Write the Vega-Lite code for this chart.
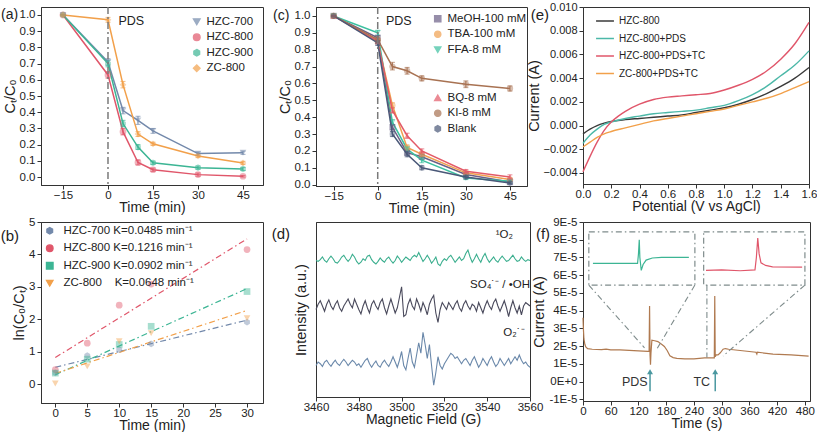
{
  "$schema": "https://vega.github.io/schema/vega-lite/v6.json",
  "background": "white",
  "padding": {"left": 0, "top": 0, "right": 0, "bottom": 0},
  "columns": 3,
  "spacing": {"row": 36, "column": 53},
  "bounds": "flush",
  "align": "each",
  "resolve": {"scale": {"color": "independent", "shape": "independent"}, "legend": {"color": "independent", "shape": "independent"}},
  "datasets": {
    "a": [
      {"s": "HZC-700", "t": -15, "y": 1.0, "lo": 1.0, "hi": 1.0},
      {"s": "HZC-700", "t": 0, "y": 0.71, "lo": 0.69, "hi": 0.73},
      {"s": "HZC-700", "t": 5, "y": 0.41, "lo": 0.39, "hi": 0.43},
      {"s": "HZC-700", "t": 10, "y": 0.35, "lo": 0.325, "hi": 0.375},
      {"s": "HZC-700", "t": 15, "y": 0.285, "lo": 0.27, "hi": 0.3},
      {"s": "HZC-700", "t": 30, "y": 0.145, "lo": 0.135, "hi": 0.155},
      {"s": "HZC-700", "t": 45, "y": 0.15, "lo": 0.14, "hi": 0.16},
      {"s": "HZC-800", "t": -15, "y": 1.0, "lo": 1.0, "hi": 1.0},
      {"s": "HZC-800", "t": 0, "y": 0.63, "lo": 0.61, "hi": 0.65},
      {"s": "HZC-800", "t": 5, "y": 0.28, "lo": 0.26, "hi": 0.3},
      {"s": "HZC-800", "t": 10, "y": 0.09, "lo": 0.075, "hi": 0.105},
      {"s": "HZC-800", "t": 15, "y": 0.045, "lo": 0.035, "hi": 0.055},
      {"s": "HZC-800", "t": 30, "y": 0.015, "lo": 0.005, "hi": 0.025},
      {"s": "HZC-800", "t": 45, "y": 0.005, "lo": 0.0, "hi": 0.01},
      {"s": "HZC-900", "t": -15, "y": 1.0, "lo": 1.0, "hi": 1.0},
      {"s": "HZC-900", "t": 0, "y": 0.7, "lo": 0.68, "hi": 0.72},
      {"s": "HZC-900", "t": 5, "y": 0.33, "lo": 0.31, "hi": 0.35},
      {"s": "HZC-900", "t": 10, "y": 0.185, "lo": 0.17, "hi": 0.2},
      {"s": "HZC-900", "t": 15, "y": 0.088, "lo": 0.078, "hi": 0.098},
      {"s": "HZC-900", "t": 30, "y": 0.058, "lo": 0.048, "hi": 0.068},
      {"s": "HZC-900", "t": 45, "y": 0.05, "lo": 0.04, "hi": 0.06},
      {"s": "ZC-800", "t": -15, "y": 1.0, "lo": 0.99, "hi": 1.0},
      {"s": "ZC-800", "t": 0, "y": 0.97, "lo": 0.955, "hi": 0.985},
      {"s": "ZC-800", "t": 5, "y": 0.57, "lo": 0.55, "hi": 0.59},
      {"s": "ZC-800", "t": 10, "y": 0.265, "lo": 0.25, "hi": 0.28},
      {"s": "ZC-800", "t": 15, "y": 0.205, "lo": 0.195, "hi": 0.215},
      {"s": "ZC-800", "t": 30, "y": 0.13, "lo": 0.12, "hi": 0.14},
      {"s": "ZC-800", "t": 45, "y": 0.087, "lo": 0.077, "hi": 0.097}
    ],
    "c1": [
      {"s": "MeOH-100 mM", "t": -15, "y": 1.0, "lo": 1.0, "hi": 1.0},
      {"s": "MeOH-100 mM", "t": 0, "y": 0.87, "lo": 0.855, "hi": 0.885},
      {"s": "MeOH-100 mM", "t": 5, "y": 0.34, "lo": 0.325, "hi": 0.355},
      {"s": "MeOH-100 mM", "t": 10, "y": 0.19, "lo": 0.175, "hi": 0.205},
      {"s": "MeOH-100 mM", "t": 15, "y": 0.165, "lo": 0.15, "hi": 0.18},
      {"s": "MeOH-100 mM", "t": 30, "y": 0.06, "lo": 0.05, "hi": 0.07},
      {"s": "MeOH-100 mM", "t": 45, "y": 0.015, "lo": 0.005, "hi": 0.025},
      {"s": "TBA-100 mM", "t": -15, "y": 1.0, "lo": 1.0, "hi": 1.0},
      {"s": "TBA-100 mM", "t": 0, "y": 0.85, "lo": 0.835, "hi": 0.865},
      {"s": "TBA-100 mM", "t": 5, "y": 0.47, "lo": 0.455, "hi": 0.485},
      {"s": "TBA-100 mM", "t": 10, "y": 0.22, "lo": 0.205, "hi": 0.235},
      {"s": "TBA-100 mM", "t": 15, "y": 0.18, "lo": 0.165, "hi": 0.195},
      {"s": "TBA-100 mM", "t": 30, "y": 0.07, "lo": 0.06, "hi": 0.08},
      {"s": "TBA-100 mM", "t": 45, "y": 0.03, "lo": 0.02, "hi": 0.04},
      {"s": "FFA-8 mM", "t": -15, "y": 1.0, "lo": 1.0, "hi": 1.0},
      {"s": "FFA-8 mM", "t": 0, "y": 0.9, "lo": 0.885, "hi": 0.915},
      {"s": "FFA-8 mM", "t": 5, "y": 0.37, "lo": 0.355, "hi": 0.385},
      {"s": "FFA-8 mM", "t": 10, "y": 0.21, "lo": 0.195, "hi": 0.225},
      {"s": "FFA-8 mM", "t": 15, "y": 0.145, "lo": 0.13, "hi": 0.16},
      {"s": "FFA-8 mM", "t": 30, "y": 0.04, "lo": 0.03, "hi": 0.05},
      {"s": "FFA-8 mM", "t": 45, "y": 0.02, "lo": 0.01, "hi": 0.03}
    ],
    "c2": [
      {"s": "BQ-8 mM", "t": -15, "y": 1.0, "lo": 1.0, "hi": 1.0},
      {"s": "BQ-8 mM", "t": 0, "y": 0.85, "lo": 0.835, "hi": 0.865},
      {"s": "BQ-8 mM", "t": 5, "y": 0.44, "lo": 0.425, "hi": 0.455},
      {"s": "BQ-8 mM", "t": 10, "y": 0.29, "lo": 0.275, "hi": 0.305},
      {"s": "BQ-8 mM", "t": 15, "y": 0.2, "lo": 0.188, "hi": 0.212},
      {"s": "BQ-8 mM", "t": 30, "y": 0.08, "lo": 0.07, "hi": 0.09},
      {"s": "BQ-8 mM", "t": 45, "y": 0.045, "lo": 0.035, "hi": 0.058},
      {"s": "KI-8 mM", "t": -15, "y": 1.0, "lo": 1.0, "hi": 1.0},
      {"s": "KI-8 mM", "t": 0, "y": 0.86, "lo": 0.845, "hi": 0.875},
      {"s": "KI-8 mM", "t": 5, "y": 0.7, "lo": 0.68, "hi": 0.725},
      {"s": "KI-8 mM", "t": 10, "y": 0.675, "lo": 0.655, "hi": 0.695},
      {"s": "KI-8 mM", "t": 15, "y": 0.63, "lo": 0.615, "hi": 0.645},
      {"s": "KI-8 mM", "t": 30, "y": 0.595, "lo": 0.575, "hi": 0.615},
      {"s": "KI-8 mM", "t": 45, "y": 0.57, "lo": 0.555, "hi": 0.585},
      {"s": "Blank", "t": -15, "y": 1.0, "lo": 1.0, "hi": 1.0},
      {"s": "Blank", "t": 0, "y": 0.84, "lo": 0.825, "hi": 0.855},
      {"s": "Blank", "t": 5, "y": 0.3, "lo": 0.285, "hi": 0.315},
      {"s": "Blank", "t": 10, "y": 0.18, "lo": 0.165, "hi": 0.195},
      {"s": "Blank", "t": 15, "y": 0.1, "lo": 0.088, "hi": 0.112},
      {"s": "Blank", "t": 30, "y": 0.045, "lo": 0.035, "hi": 0.055},
      {"s": "Blank", "t": 45, "y": 0.01, "lo": 0.003, "hi": 0.017}
    ],
    "e": [
      {"s": "HZC-800", "v": 0, "i": -0.0007}, {"s": "HZC-800", "v": 0.05, "i": -0.0003}, {"s": "HZC-800", "v": 0.1, "i": 0.0}, {"s": "HZC-800", "v": 0.15, "i": 0.0002}, {"s": "HZC-800", "v": 0.2, "i": 0.00035}, {"s": "HZC-800", "v": 0.3, "i": 0.0005}, {"s": "HZC-800", "v": 0.4, "i": 0.0006}, {"s": "HZC-800", "v": 0.5, "i": 0.0007}, {"s": "HZC-800", "v": 0.6, "i": 0.0008}, {"s": "HZC-800", "v": 0.7, "i": 0.0009}, {"s": "HZC-800", "v": 0.8, "i": 0.0011}, {"s": "HZC-800", "v": 0.9, "i": 0.0013}, {"s": "HZC-800", "v": 1.0, "i": 0.0015}, {"s": "HZC-800", "v": 1.1, "i": 0.0018}, {"s": "HZC-800", "v": 1.2, "i": 0.0022}, {"s": "HZC-800", "v": 1.3, "i": 0.0027}, {"s": "HZC-800", "v": 1.4, "i": 0.0033}, {"s": "HZC-800", "v": 1.5, "i": 0.004}, {"s": "HZC-800", "v": 1.6, "i": 0.0049},
      {"s": "HZC-800+PDS", "v": 0, "i": -0.0015}, {"s": "HZC-800+PDS", "v": 0.05, "i": -0.0008}, {"s": "HZC-800+PDS", "v": 0.1, "i": -0.0003}, {"s": "HZC-800+PDS", "v": 0.15, "i": 0.0001}, {"s": "HZC-800+PDS", "v": 0.2, "i": 0.0003}, {"s": "HZC-800+PDS", "v": 0.3, "i": 0.0006}, {"s": "HZC-800+PDS", "v": 0.4, "i": 0.0008}, {"s": "HZC-800+PDS", "v": 0.5, "i": 0.001}, {"s": "HZC-800+PDS", "v": 0.6, "i": 0.0011}, {"s": "HZC-800+PDS", "v": 0.7, "i": 0.0012}, {"s": "HZC-800+PDS", "v": 0.8, "i": 0.0013}, {"s": "HZC-800+PDS", "v": 0.9, "i": 0.0015}, {"s": "HZC-800+PDS", "v": 1.0, "i": 0.0017}, {"s": "HZC-800+PDS", "v": 1.1, "i": 0.0021}, {"s": "HZC-800+PDS", "v": 1.2, "i": 0.0026}, {"s": "HZC-800+PDS", "v": 1.3, "i": 0.0033}, {"s": "HZC-800+PDS", "v": 1.4, "i": 0.0042}, {"s": "HZC-800+PDS", "v": 1.5, "i": 0.0051}, {"s": "HZC-800+PDS", "v": 1.6, "i": 0.0063},
      {"s": "HZC-800+PDS+TC", "v": 0, "i": -0.0039}, {"s": "HZC-800+PDS+TC", "v": 0.05, "i": -0.0026}, {"s": "HZC-800+PDS+TC", "v": 0.1, "i": -0.0014}, {"s": "HZC-800+PDS+TC", "v": 0.15, "i": -0.0004}, {"s": "HZC-800+PDS+TC", "v": 0.2, "i": 0.0003}, {"s": "HZC-800+PDS+TC", "v": 0.25, "i": 0.0008}, {"s": "HZC-800+PDS+TC", "v": 0.3, "i": 0.0012}, {"s": "HZC-800+PDS+TC", "v": 0.4, "i": 0.0018}, {"s": "HZC-800+PDS+TC", "v": 0.5, "i": 0.0022}, {"s": "HZC-800+PDS+TC", "v": 0.6, "i": 0.0024}, {"s": "HZC-800+PDS+TC", "v": 0.7, "i": 0.0025}, {"s": "HZC-800+PDS+TC", "v": 0.8, "i": 0.0026}, {"s": "HZC-800+PDS+TC", "v": 0.9, "i": 0.0027}, {"s": "HZC-800+PDS+TC", "v": 1.0, "i": 0.003}, {"s": "HZC-800+PDS+TC", "v": 1.1, "i": 0.0034}, {"s": "HZC-800+PDS+TC", "v": 1.2, "i": 0.0039}, {"s": "HZC-800+PDS+TC", "v": 1.3, "i": 0.0046}, {"s": "HZC-800+PDS+TC", "v": 1.4, "i": 0.0056}, {"s": "HZC-800+PDS+TC", "v": 1.5, "i": 0.0069}, {"s": "HZC-800+PDS+TC", "v": 1.6, "i": 0.0087},
      {"s": "ZC-800+PDS+TC", "v": 0, "i": -0.0018}, {"s": "ZC-800+PDS+TC", "v": 0.05, "i": -0.0014}, {"s": "ZC-800+PDS+TC", "v": 0.1, "i": -0.001}, {"s": "ZC-800+PDS+TC", "v": 0.15, "i": -0.0007}, {"s": "ZC-800+PDS+TC", "v": 0.2, "i": -0.0005}, {"s": "ZC-800+PDS+TC", "v": 0.3, "i": -0.0002}, {"s": "ZC-800+PDS+TC", "v": 0.4, "i": 0.0001}, {"s": "ZC-800+PDS+TC", "v": 0.5, "i": 0.0004}, {"s": "ZC-800+PDS+TC", "v": 0.6, "i": 0.0006}, {"s": "ZC-800+PDS+TC", "v": 0.7, "i": 0.0008}, {"s": "ZC-800+PDS+TC", "v": 0.8, "i": 0.001}, {"s": "ZC-800+PDS+TC", "v": 0.9, "i": 0.0012}, {"s": "ZC-800+PDS+TC", "v": 1.0, "i": 0.0014}, {"s": "ZC-800+PDS+TC", "v": 1.1, "i": 0.0017}, {"s": "ZC-800+PDS+TC", "v": 1.2, "i": 0.002}, {"s": "ZC-800+PDS+TC", "v": 1.3, "i": 0.0023}, {"s": "ZC-800+PDS+TC", "v": 1.4, "i": 0.0027}, {"s": "ZC-800+PDS+TC", "v": 1.5, "i": 0.0032}, {"s": "ZC-800+PDS+TC", "v": 1.6, "i": 0.0037}
    ],
    "bpts": [
      {"s": "HZC-700 K=0.0485 min⁻¹", "t": 0, "y": 0.36}, {"s": "HZC-700 K=0.0485 min⁻¹", "t": 5, "y": 0.89}, {"s": "HZC-700 K=0.0485 min⁻¹", "t": 10, "y": 1.07}, {"s": "HZC-700 K=0.0485 min⁻¹", "t": 15, "y": 1.25}, {"s": "HZC-700 K=0.0485 min⁻¹", "t": 30, "y": 1.92},
      {"s": "HZC-800 K=0.1216 min⁻¹", "t": 0, "y": 0.46}, {"s": "HZC-800 K=0.1216 min⁻¹", "t": 5, "y": 1.27}, {"s": "HZC-800 K=0.1216 min⁻¹", "t": 10, "y": 2.44}, {"s": "HZC-800 K=0.1216 min⁻¹", "t": 15, "y": 3.09}, {"s": "HZC-800 K=0.1216 min⁻¹", "t": 30, "y": 4.15},
      {"s": "HZC-900 K=0.0902 min⁻¹", "t": 0, "y": 0.35}, {"s": "HZC-900 K=0.0902 min⁻¹", "t": 5, "y": 0.78}, {"s": "HZC-900 K=0.0902 min⁻¹", "t": 10, "y": 1.23}, {"s": "HZC-900 K=0.0902 min⁻¹", "t": 15, "y": 1.79}, {"s": "HZC-900 K=0.0902 min⁻¹", "t": 30, "y": 2.86},
      {"s": "ZC-800\u00a0\u00a0\u00a0\u00a0K=0.0648 min⁻¹", "t": 0, "y": 0.03}, {"s": "ZC-800\u00a0\u00a0\u00a0\u00a0K=0.0648 min⁻¹", "t": 5, "y": 0.56}, {"s": "ZC-800\u00a0\u00a0\u00a0\u00a0K=0.0648 min⁻¹", "t": 10, "y": 1.33}, {"s": "ZC-800\u00a0\u00a0\u00a0\u00a0K=0.0648 min⁻¹", "t": 15, "y": 1.58}, {"s": "ZC-800\u00a0\u00a0\u00a0\u00a0K=0.0648 min⁻¹", "t": 30, "y": 2.04}
    ],
    "bfit": [
      {"s": "HZC-700 K=0.0485 min⁻¹", "t": 0, "y": 0.53}, {"s": "HZC-700 K=0.0485 min⁻¹", "t": 30, "y": 1.98},
      {"s": "HZC-800 K=0.1216 min⁻¹", "t": 0, "y": 0.83}, {"s": "HZC-800 K=0.1216 min⁻¹", "t": 30, "y": 4.48},
      {"s": "HZC-900 K=0.0902 min⁻¹", "t": 0, "y": 0.3}, {"s": "HZC-900 K=0.0902 min⁻¹", "t": 30, "y": 2.95},
      {"s": "ZC-800\u00a0\u00a0\u00a0\u00a0K=0.0648 min⁻¹", "t": 0, "y": 0.34}, {"s": "ZC-800\u00a0\u00a0\u00a0\u00a0K=0.0648 min⁻¹", "t": 30, "y": 2.28}
    ],
    "d": [
      {"f": 3460, "o": 78, "m": 50, "q": 18}, {"f": 3461, "o": 77.5, "m": 53, "q": 20}, {"f": 3462, "o": 78.5, "m": 55, "q": 19}, {"f": 3463, "o": 80, "m": 52, "q": 17.5}, {"f": 3464, "o": 78, "m": 49, "q": 20},
      {"f": 3465, "o": 77, "m": 53, "q": 21}, {"f": 3466, "o": 79, "m": 55.5, "q": 19}, {"f": 3467, "o": 80.5, "m": 52, "q": 17.5}, {"f": 3468, "o": 79, "m": 50, "q": 19.5}, {"f": 3469, "o": 77, "m": 53, "q": 21},
      {"f": 3470, "o": 76.5, "m": 55, "q": 19}, {"f": 3471, "o": 78, "m": 51, "q": 18}, {"f": 3472, "o": 80, "m": 49, "q": 20}, {"f": 3473, "o": 81, "m": 52, "q": 21.5}, {"f": 3474, "o": 79, "m": 54, "q": 20},
      {"f": 3475, "o": 77.5, "m": 56, "q": 18}, {"f": 3476, "o": 79, "m": 53, "q": 19.5}, {"f": 3477, "o": 81.5, "m": 51, "q": 21}, {"f": 3478, "o": 80, "m": 56, "q": 20}, {"f": 3479, "o": 77.5, "m": 53, "q": 18},
      {"f": 3480, "o": 76, "m": 50, "q": 19}, {"f": 3481, "o": 77, "m": 47.5, "q": 17}, {"f": 3482, "o": 79, "m": 52, "q": 19}, {"f": 3483, "o": 78, "m": 55, "q": 21}, {"f": 3484, "o": 80.5, "m": 51, "q": 22},
      {"f": 3485, "o": 81, "m": 48, "q": 19}, {"f": 3486, "o": 78.5, "m": 53, "q": 17}, {"f": 3487, "o": 77, "m": 55, "q": 19}, {"f": 3488, "o": 76, "m": 52, "q": 20.5}, {"f": 3489, "o": 77.5, "m": 50, "q": 18},
      {"f": 3490, "o": 79.5, "m": 54, "q": 17}, {"f": 3491, "o": 78, "m": 56, "q": 19.5}, {"f": 3492, "o": 77, "m": 51, "q": 21}, {"f": 3493, "o": 79, "m": 47.5, "q": 19}, {"f": 3494, "o": 80, "m": 52, "q": 17.5},
      {"f": 3495, "o": 78, "m": 56, "q": 20}, {"f": 3496, "o": 76.5, "m": 52, "q": 23}, {"f": 3497, "o": 78, "m": 48, "q": 20}, {"f": 3498, "o": 80.5, "m": 51, "q": 17}, {"f": 3499, "o": 79, "m": 57, "q": 21},
      {"f": 3500, "o": 77, "m": 63, "q": 26}, {"f": 3501, "o": 78.5, "m": 46, "q": 18}, {"f": 3502, "o": 80, "m": 47, "q": 15.5}, {"f": 3503, "o": 79, "m": 53, "q": 22}, {"f": 3504, "o": 78, "m": 56, "q": 28},
      {"f": 3505, "o": 80, "m": 52, "q": 20}, {"f": 3506, "o": 81, "m": 50, "q": 17}, {"f": 3507, "o": 80, "m": 56, "q": 24}, {"f": 3508, "o": 82.5, "m": 53, "q": 31}, {"f": 3509, "o": 80, "m": 49, "q": 25},
      {"f": 3510, "o": 77.5, "m": 54, "q": 37}, {"f": 3511, "o": 79, "m": 51, "q": 30}, {"f": 3512, "o": 81, "m": 47, "q": 22}, {"f": 3513, "o": 79, "m": 53, "q": 30}, {"f": 3514, "o": 76.5, "m": 56, "q": 18},
      {"f": 3515, "o": 78, "m": 58, "q": 6.7}, {"f": 3516, "o": 80, "m": 48, "q": 14}, {"f": 3517, "o": 76, "m": 42.6, "q": 23}, {"f": 3518, "o": 75, "m": 50, "q": 18}, {"f": 3519, "o": 77.5, "m": 54, "q": 16},
      {"f": 3520, "o": 79, "m": 52, "q": 19}, {"f": 3521, "o": 78, "m": 50, "q": 21}, {"f": 3522, "o": 80, "m": 54, "q": 23}, {"f": 3523, "o": 81, "m": 52, "q": 25}, {"f": 3524, "o": 79, "m": 50, "q": 24},
      {"f": 3525, "o": 77, "m": 53, "q": 22}, {"f": 3526, "o": 78.5, "m": 55, "q": 23}, {"f": 3527, "o": 80, "m": 51, "q": 21}, {"f": 3528, "o": 78, "m": 49, "q": 19}, {"f": 3529, "o": 79, "m": 53, "q": 21},
      {"f": 3530, "o": 82, "m": 55, "q": 22}, {"f": 3531, "o": 84, "m": 52, "q": 20}, {"f": 3532, "o": 80, "m": 50, "q": 18}, {"f": 3533, "o": 77, "m": 53, "q": 21}, {"f": 3534, "o": 79, "m": 52, "q": 23},
      {"f": 3535, "o": 81.5, "m": 49, "q": 20}, {"f": 3536, "o": 79, "m": 54, "q": 17}, {"f": 3537, "o": 77, "m": 51, "q": 19}, {"f": 3538, "o": 80, "m": 48, "q": 22}, {"f": 3539, "o": 82, "m": 52, "q": 20},
      {"f": 3540, "o": 79, "m": 55, "q": 18}, {"f": 3541, "o": 77, "m": 52, "q": 21}, {"f": 3542, "o": 78.5, "m": 50, "q": 23}, {"f": 3543, "o": 80, "m": 54, "q": 20}, {"f": 3544, "o": 78, "m": 56, "q": 17.5},
      {"f": 3545, "o": 77, "m": 52, "q": 19}, {"f": 3546, "o": 79, "m": 49, "q": 22}, {"f": 3547, "o": 80.5, "m": 52, "q": 20}, {"f": 3548, "o": 79, "m": 55, "q": 18}, {"f": 3549, "o": 77.5, "m": 51, "q": 20},
      {"f": 3550, "o": 78, "m": 46, "q": 22}, {"f": 3551, "o": 79.5, "m": 51, "q": 19}, {"f": 3552, "o": 81, "m": 55, "q": 21}, {"f": 3553, "o": 79, "m": 51, "q": 23}, {"f": 3554, "o": 77.5, "m": 48, "q": 21},
      {"f": 3555, "o": 78, "m": 52, "q": 24}, {"f": 3556, "o": 80, "m": 47, "q": 21}, {"f": 3557, "o": 78.5, "m": 52, "q": 19}, {"f": 3558, "o": 77.5, "m": 54, "q": 20}, {"f": 3559, "o": 78.5, "m": 53, "q": 18},
      {"f": 3560, "o": 78, "m": 52, "q": 17}
    ],
    "fmain": [
      {"t": 0, "i": 3.6e-5}, {"t": 1, "i": 2.9e-5}, {"t": 2, "i": 2.4e-5}, {"t": 4, "i": 2.1e-5}, {"t": 6, "i": 1.95e-5}, {"t": 10, "i": 1.85e-5}, {"t": 20, "i": 1.82e-5}, {"t": 40, "i": 1.8e-5}, {"t": 50, "i": 1.83e-5}, {"t": 60, "i": 1.79e-5}, {"t": 80, "i": 1.78e-5}, {"t": 100, "i": 1.76e-5}, {"t": 120, "i": 1.73e-5}, {"t": 140, "i": 1.7e-5}, {"t": 143, "i": 1.7e-5}, {"t": 144, "i": 4.26e-5}, {"t": 145, "i": 1.5e-5}, {"t": 146, "i": 0.94e-5}, {"t": 147, "i": 1.6e-5}, {"t": 149, "i": 2.33e-5}, {"t": 155, "i": 2.3e-5}, {"t": 162, "i": 2.25e-5}, {"t": 170, "i": 2.1e-5}, {"t": 176, "i": 1.98e-5}, {"t": 182, "i": 1.75e-5}, {"t": 188, "i": 1.45e-5}, {"t": 195, "i": 1.35e-5}, {"t": 203, "i": 1.31e-5}, {"t": 220, "i": 1.28e-5}, {"t": 240, "i": 1.28e-5}, {"t": 263, "i": 1.33e-5}, {"t": 280, "i": 1.34e-5}, {"t": 284, "i": 1.33e-5}, {"t": 285, "i": 4.82e-5}, {"t": 286, "i": 1.4e-5}, {"t": 288, "i": 1.5e-5}, {"t": 292, "i": 1.5e-5}, {"t": 297, "i": 1.62e-5}, {"t": 303, "i": 1.82e-5}, {"t": 308, "i": 1.86e-5}, {"t": 315, "i": 1.82e-5}, {"t": 340, "i": 1.75e-5}, {"t": 374, "i": 1.65e-5}, {"t": 376, "i": 1.55e-5}, {"t": 377, "i": 1.65e-5}, {"t": 411, "i": 1.55e-5}, {"t": 450, "i": 1.5e-5}, {"t": 488, "i": 1.43e-5}
    ],
    "finset": [
      {"s": "PDS", "t": 21.5, "i": 6.66e-5}, {"s": "PDS", "t": 118, "i": 6.66e-5}, {"s": "PDS", "t": 120, "i": 7.2e-5}, {"s": "PDS", "t": 121.7, "i": 8.0e-5}, {"s": "PDS", "t": 123, "i": 7.0e-5}, {"s": "PDS", "t": 126, "i": 6.27e-5}, {"s": "PDS", "t": 130, "i": 6.6e-5}, {"s": "PDS", "t": 136.5, "i": 6.85e-5}, {"s": "PDS", "t": 150, "i": 6.97e-5}, {"s": "PDS", "t": 170, "i": 7.0e-5}, {"s": "PDS", "t": 229, "i": 7.0e-5},
      {"s": "TC", "t": 266, "i": 6.27e-5}, {"s": "TC", "t": 300, "i": 6.3e-5}, {"s": "TC", "t": 340, "i": 6.25e-5}, {"s": "TC", "t": 372, "i": 6.3e-5}, {"s": "TC", "t": 375, "i": 7.0e-5}, {"s": "TC", "t": 378, "i": 8.1e-5}, {"s": "TC", "t": 381, "i": 7.2e-5}, {"s": "TC", "t": 385, "i": 6.7e-5}, {"s": "TC", "t": 395, "i": 6.55e-5}, {"s": "TC", "t": 410, "i": 6.47e-5}, {"s": "TC", "t": 474, "i": 6.45e-5}
    ],
    "fbox": [
      {"t": 12.6, "t2": 242, "i": 5.44e-5, "i2": 8.44e-5},
      {"t": 261, "t2": 480, "i": 5.44e-5, "i2": 8.44e-5}
    ],
    "fconn": [
      {"t": 12.6, "i": 5.44e-5, "t2": 133, "i2": 1.9e-5},
      {"t": 242, "i": 5.44e-5, "t2": 159, "i2": 1.8e-5},
      {"t": 268, "i": 5.44e-5, "t2": 268, "i2": 1.35e-5},
      {"t": 480, "i": 5.44e-5, "t2": 303, "i2": 1.44e-5}
    ],
    "farrow": [
      {"t": 145, "i": -0.55e-5, "i2": 0.45e-5, "tip": 0.55e-5, "label": "PDS", "lt": 112},
      {"t": 286, "i": -0.55e-5, "i2": 0.45e-5, "tip": 0.55e-5, "label": "TC", "lt": 257}
    ]
  },
  "concat": [
    {
      "width": 222, "height": 178,
      "layer": [
        {
          "data": {"name": "a"},
          "encoding": {
            "x": {"field": "t", "type": "quantitative", "title": "Time (min)", "scale": {"domain": [-22.33, 51.67], "nice": false, "zero": false}, "axis": {"values": [-15, 0, 15, 30, 45], "labelOverlap": false}},
            "y": {"field": "y", "type": "quantitative", "title": "Cₜ/C₀", "scale": {"domain": [-0.049, 1.049], "nice": false, "zero": false}, "axis": {"values": [0, 0.1, 0.2, 0.3, 0.4, 0.5, 0.6, 0.7, 0.8, 0.9, 1.0], "format": ".1f", "labelOverlap": false}},
            "color": {"field": "s", "type": "nominal", "scale": {"domain": ["HZC-700", "HZC-800", "HZC-900", "ZC-800"], "range": ["#7389ab", "#e0566a", "#3cb594", "#f2a04a"]}, "legend": {"title": null, "orient": "top-right", "offset": 9, "symbolSize": 45, "rowPadding": 2.5, "symbolStrokeWidth": 1.3}}
          },
          "layer": [
            {"mark": {"type": "line", "strokeWidth": 1.5}},
            {"mark": {"type": "errorbar", "ticks": true, "thickness": 1}, "encoding": {"y": {"field": "lo", "type": "quantitative", "title": "Cₜ/C₀", "scale": {"domain": [-0.049, 1.049], "nice": false, "zero": false}, "axis": {"values": [0, 0.1, 0.2, 0.3, 0.4, 0.5, 0.6, 0.7, 0.8, 0.9, 1.0], "format": ".1f", "labelOverlap": false}}, "y2": {"field": "hi"}}},
            {"mark": {"type": "point", "filled": true, "size": 45, "opacity": 1, "fillOpacity": 0.45, "strokeWidth": 1.2},
             "encoding": {"shape": {"field": "s", "type": "nominal", "scale": {"domain": ["HZC-700", "HZC-800", "HZC-900", "ZC-800"], "range": ["triangle-down", "circle", "M0,-1L0.866,-0.5L0.866,0.5L0,1L-0.866,0.5L-0.866,-0.5Z", "diamond"]}, "legend": {"title": null, "orient": "top-right", "offset": 9, "symbolSize": 45, "rowPadding": 2.5, "symbolStrokeWidth": 1.3}}}}
          ]
        },
        {"data": {"values": [{"t": 0}]}, "mark": {"type": "rule", "color": "#7a7a7a", "strokeWidth": 1.5, "strokeDash": [7, 3, 2, 3]},
         "encoding": {"x": {"field": "t", "type": "quantitative", "title": "Time (min)", "scale": {"domain": [-22.33, 51.67], "nice": false, "zero": false}, "axis": {"values": [-15, 0, 15, 30, 45], "labelOverlap": false}}}},
        {"data": {"values": [{"t": 3.5, "y": 0.965, "label": "PDS", "sz": 12.5}, {"t": -35.67, "y": 0.998, "label": "(a)", "sz": 14}]}, "mark": {"type": "text", "align": "left", "baseline": "middle", "color": "#222222"},
         "encoding": {
           "x": {"field": "t", "type": "quantitative", "title": "Time (min)", "scale": {"domain": [-22.33, 51.67], "nice": false, "zero": false}, "axis": {"values": [-15, 0, 15, 30, 45], "labelOverlap": false}},
           "y": {"field": "y", "type": "quantitative", "title": "Cₜ/C₀", "scale": {"domain": [-0.049, 1.049], "nice": false, "zero": false}, "axis": {"values": [0, 0.1, 0.2, 0.3, 0.4, 0.5, 0.6, 0.7, 0.8, 0.9, 1.0], "format": ".1f", "labelOverlap": false}},
           "text": {"field": "label"},
           "size": {"field": "sz", "type": "quantitative", "scale": null}
         }}
      ]
    },
    {
      "width": 211, "height": 179,
      "layer": [
        {
          "data": {"name": "c1"},
          "encoding": {
            "x": {"field": "t", "type": "quantitative", "title": "Time (min)", "scale": {"domain": [-21, 50.8], "nice": false, "zero": false}, "axis": {"values": [-15, 0, 15, 30, 45], "labelOverlap": false}},
            "y": {"field": "y", "type": "quantitative", "title": "Cₜ/C₀", "scale": {"domain": [-0.008, 1.053], "nice": false, "zero": false}, "axis": {"values": [0, 0.1, 0.2, 0.3, 0.4, 0.5, 0.6, 0.7, 0.8, 0.9, 1.0], "format": ".1f", "labelOverlap": false}},
            "color": {"field": "s", "type": "nominal", "scale": {"domain": ["MeOH-100 mM", "TBA-100 mM", "FFA-8 mM"], "range": ["#6b5f86", "#f0a050", "#3cc0a0"]}, "legend": {"title": null, "orient": "none", "legendX": 116, "legendY": 6, "symbolSize": 40, "rowPadding": 2.5, "symbolStrokeWidth": 1.3}}
          },
          "layer": [
            {"mark": {"type": "line", "strokeWidth": 1.5}},
            {"mark": {"type": "errorbar", "ticks": true, "thickness": 1}, "encoding": {"y": {"field": "lo", "type": "quantitative", "title": "Cₜ/C₀", "scale": {"domain": [-0.008, 1.053], "nice": false, "zero": false}, "axis": {"values": [0, 0.1, 0.2, 0.3, 0.4, 0.5, 0.6, 0.7, 0.8, 0.9, 1.0], "format": ".1f", "labelOverlap": false}}, "y2": {"field": "hi"}}},
            {"mark": {"type": "point", "filled": true, "size": 40, "opacity": 1, "fillOpacity": 0.45, "strokeWidth": 1.2},
             "encoding": {"shape": {"field": "s", "type": "nominal", "scale": {"domain": ["MeOH-100 mM", "TBA-100 mM", "FFA-8 mM"], "range": ["square", "circle", "triangle-down"]}, "legend": {"title": null, "orient": "none", "legendX": 116, "legendY": 6, "symbolSize": 40, "rowPadding": 2.5, "symbolStrokeWidth": 1.3}}}}
          ]
        },
        {
          "data": {"name": "c2"},
          "encoding": {
            "x": {"field": "t", "type": "quantitative", "title": "Time (min)", "scale": {"domain": [-21, 50.8], "nice": false, "zero": false}, "axis": {"values": [-15, 0, 15, 30, 45], "labelOverlap": false}},
            "y": {"field": "y", "type": "quantitative", "title": "Cₜ/C₀", "scale": {"domain": [-0.008, 1.053], "nice": false, "zero": false}, "axis": {"values": [0, 0.1, 0.2, 0.3, 0.4, 0.5, 0.6, 0.7, 0.8, 0.9, 1.0], "format": ".1f", "labelOverlap": false}},
            "color": {"field": "s", "type": "nominal", "scale": {"domain": ["BQ-8 mM", "KI-8 mM", "Blank"], "range": ["#e35a68", "#a87252", "#4a5878"]}, "legend": {"title": null, "orient": "none", "legendX": 116, "legendY": 85, "symbolSize": 40, "rowPadding": 2.5, "symbolStrokeWidth": 1.3}}
          },
          "layer": [
            {"mark": {"type": "line", "strokeWidth": 1.5}},
            {"mark": {"type": "errorbar", "ticks": true, "thickness": 1}, "encoding": {"y": {"field": "lo", "type": "quantitative", "title": "Cₜ/C₀", "scale": {"domain": [-0.008, 1.053], "nice": false, "zero": false}, "axis": {"values": [0, 0.1, 0.2, 0.3, 0.4, 0.5, 0.6, 0.7, 0.8, 0.9, 1.0], "format": ".1f", "labelOverlap": false}}, "y2": {"field": "hi"}}},
            {"mark": {"type": "point", "filled": true, "size": 40, "opacity": 1, "fillOpacity": 0.45, "strokeWidth": 1.2},
             "encoding": {"shape": {"field": "s", "type": "nominal", "scale": {"domain": ["BQ-8 mM", "KI-8 mM", "Blank"], "range": ["triangle-up", "circle", "M0,-1L0.866,-0.5L0.866,0.5L0,1L-0.866,0.5L-0.866,-0.5Z"]}, "legend": {"title": null, "orient": "none", "legendX": 116, "legendY": 85, "symbolSize": 40, "rowPadding": 2.5, "symbolStrokeWidth": 1.3}}}}
          ]
        },
        {"data": {"values": [{"t": 0}]}, "mark": {"type": "rule", "color": "#7a7a7a", "strokeWidth": 1.5, "strokeDash": [7, 3, 2, 3]},
         "encoding": {"x": {"field": "t", "type": "quantitative", "title": "Time (min)", "scale": {"domain": [-21, 50.8], "nice": false, "zero": false}, "axis": {"values": [-15, 0, 15, 30, 45], "labelOverlap": false}}}},
        {"data": {"values": [{"t": 2.8, "y": 0.97, "label": "PDS", "sz": 12.5}, {"t": -35.63, "y": 1.0, "label": "(c)", "sz": 14}]}, "mark": {"type": "text", "align": "left", "baseline": "middle", "color": "#222222"},
         "encoding": {
           "x": {"field": "t", "type": "quantitative", "title": "Time (min)", "scale": {"domain": [-21, 50.8], "nice": false, "zero": false}, "axis": {"values": [-15, 0, 15, 30, 45], "labelOverlap": false}},
           "y": {"field": "y", "type": "quantitative", "title": "Cₜ/C₀", "scale": {"domain": [-0.008, 1.053], "nice": false, "zero": false}, "axis": {"values": [0, 0.1, 0.2, 0.3, 0.4, 0.5, 0.6, 0.7, 0.8, 0.9, 1.0], "format": ".1f", "labelOverlap": false}},
           "text": {"field": "label"},
           "size": {"field": "sz", "type": "quantitative", "scale": null}
         }}
      ],
      "resolve": {"scale": {"color": "independent", "shape": "independent"}}
    },
    {
      "width": 226, "height": 177,
      "layer": [
        {
          "data": {"name": "e"},
          "mark": {"type": "line", "strokeWidth": 1.4, "interpolate": "monotone"},
          "encoding": {
            "x": {"field": "v", "type": "quantitative", "title": "Potential (V vs AgCl)", "scale": {"domain": [0, 1.6], "nice": false, "zero": false}, "axis": {"values": [0, 0.2, 0.4, 0.6, 0.8, 1.0, 1.2, 1.4, 1.6], "format": ".1f", "labelOverlap": false}},
            "y": {"field": "i", "type": "quantitative", "title": "Current (A)", "scale": {"domain": [-0.00493, 0.010], "nice": false, "zero": false}, "axis": {"values": [-0.004, -0.002, 0, 0.002, 0.004, 0.006, 0.008, 0.01], "format": ".3f", "labelOverlap": false, "labelFontSize": 11}},
            "color": {"field": "s", "type": "nominal", "scale": {"domain": ["HZC-800", "HZC-800+PDS", "HZC-800+PDS+TC", "ZC-800+PDS+TC"], "range": ["#3a3a3a", "#4cb8a8", "#e0566a", "#f2a04a"]}, "legend": {"title": null, "orient": "none", "legendX": 12, "legendY": 4, "symbolType": "stroke", "symbolSize": 320, "symbolStrokeWidth": 1.5, "labelFontSize": 10, "rowPadding": 2.5}}
          }
        },
        {"data": {"values": [{"v": -0.305, "i": 0.00933, "label": "(e)"}]}, "mark": {"type": "text", "align": "center", "baseline": "middle", "fontSize": 15, "color": "#222222"},
         "encoding": {
           "x": {"field": "v", "type": "quantitative", "title": "Potential (V vs AgCl)", "scale": {"domain": [0, 1.6], "nice": false, "zero": false}, "axis": {"values": [0, 0.2, 0.4, 0.6, 0.8, 1.0, 1.2, 1.4, 1.6], "format": ".1f", "labelOverlap": false}},
           "y": {"field": "i", "type": "quantitative", "title": "Current (A)", "scale": {"domain": [-0.00493, 0.010], "nice": false, "zero": false}, "axis": {"values": [-0.004, -0.002, 0, 0.002, 0.004, 0.006, 0.008, 0.01], "format": ".3f", "labelOverlap": false, "labelFontSize": 11}},
           "text": {"field": "label"}
         }}
      ]
    },
    {
      "width": 222, "height": 181,
      "layer": [
        {"data": {"name": "bfit"}, "mark": {"type": "line", "strokeWidth": 1.2, "strokeDash": [6, 3, 1.5, 3]},
         "encoding": {
           "x": {"field": "t", "type": "quantitative", "title": "Time (min)", "scale": {"domain": [-2.24, 32.5], "nice": false, "zero": false}, "axis": {"values": [0, 5, 10, 15, 20, 25, 30], "labelOverlap": false}},
           "y": {"field": "y", "type": "quantitative", "title": "ln(C₀/Cₜ)", "scale": {"domain": [-0.57, 5], "nice": false, "zero": false}, "axis": {"values": [0, 1, 2, 3, 4, 5], "labelOverlap": false}},
           "color": {"field": "s", "type": "nominal", "scale": {"domain": ["HZC-700 K=0.0485 min⁻¹", "HZC-800 K=0.1216 min⁻¹", "HZC-900 K=0.0902 min⁻¹", "ZC-800\u00a0\u00a0\u00a0\u00a0K=0.0648 min⁻¹"], "range": ["#7389ab", "#e0566a", "#3cb594", "#f2a04a"]}, "legend": {"title": null, "orient": "top-left", "offset": 3, "symbolSize": 45, "rowPadding": 4.5, "symbolStrokeWidth": 1.2, "labelOffset": 8}}
         }},
        {"data": {"name": "bpts"}, "mark": {"type": "point", "filled": true, "size": 45, "opacity": 1, "fillOpacity": 0.45, "strokeWidth": 1.2},
         "encoding": {
           "x": {"field": "t", "type": "quantitative", "title": "Time (min)", "scale": {"domain": [-2.24, 32.5], "nice": false, "zero": false}, "axis": {"values": [0, 5, 10, 15, 20, 25, 30], "labelOverlap": false}},
           "y": {"field": "y", "type": "quantitative", "title": "ln(C₀/Cₜ)", "scale": {"domain": [-0.57, 5], "nice": false, "zero": false}, "axis": {"values": [0, 1, 2, 3, 4, 5], "labelOverlap": false}},
           "color": {"field": "s", "type": "nominal", "scale": {"domain": ["HZC-700 K=0.0485 min⁻¹", "HZC-800 K=0.1216 min⁻¹", "HZC-900 K=0.0902 min⁻¹", "ZC-800\u00a0\u00a0\u00a0\u00a0K=0.0648 min⁻¹"], "range": ["#7389ab", "#e0566a", "#3cb594", "#f2a04a"]}, "legend": {"title": null, "orient": "top-left", "offset": 3, "symbolSize": 45, "rowPadding": 4.5, "symbolStrokeWidth": 1.2, "labelOffset": 8}},
           "shape": {"field": "s", "type": "nominal", "scale": {"domain": ["HZC-700 K=0.0485 min⁻¹", "HZC-800 K=0.1216 min⁻¹", "HZC-900 K=0.0902 min⁻¹", "ZC-800\u00a0\u00a0\u00a0\u00a0K=0.0648 min⁻¹"], "range": ["M0,-1L0.866,-0.5L0.866,0.5L0,1L-0.866,0.5L-0.866,-0.5Z", "circle", "square", "triangle-down"]}, "legend": {"title": null, "orient": "top-left", "offset": 3, "symbolSize": 45, "rowPadding": 4.5, "symbolStrokeWidth": 1.2, "labelOffset": 8}}
         }},
        {"data": {"values": [{"t": -7.1, "y": 4.57, "label": "(b)"}]}, "mark": {"type": "text", "align": "center", "baseline": "middle", "fontSize": 15, "color": "#222222"},
         "encoding": {
           "x": {"field": "t", "type": "quantitative", "title": "Time (min)", "scale": {"domain": [-2.24, 32.5], "nice": false, "zero": false}, "axis": {"values": [0, 5, 10, 15, 20, 25, 30], "labelOverlap": false}},
           "y": {"field": "y", "type": "quantitative", "title": "ln(C₀/Cₜ)", "scale": {"domain": [-0.57, 5], "nice": false, "zero": false}, "axis": {"values": [0, 1, 2, 3, 4, 5], "labelOverlap": false}},
           "text": {"field": "label"}
         }}
      ]
    },
    {
      "width": 214, "height": 175,
      "layer": [
        {"data": {"name": "d"}, "mark": {"type": "line", "strokeWidth": 1.1, "color": "#3aae8e"},
         "encoding": {
           "x": {"field": "f", "type": "quantitative", "title": "Magnetic Field (G)", "scale": {"domain": [3460, 3560], "nice": false, "zero": false}, "axis": {"values": [3460, 3480, 3500, 3520, 3540, 3560], "format": "d", "labelOverlap": false}},
           "y": {"field": "o", "type": "quantitative", "title": "Intensity (a.u.)", "scale": {"domain": [0, 100], "nice": false, "zero": false}, "axis": {"labels": false, "ticks": false, "titlePadding": 8}}
         }},
        {"data": {"name": "d"}, "mark": {"type": "line", "strokeWidth": 1.1, "color": "#4a4a5c"},
         "encoding": {
           "x": {"field": "f", "type": "quantitative", "title": "Magnetic Field (G)", "scale": {"domain": [3460, 3560], "nice": false, "zero": false}, "axis": {"values": [3460, 3480, 3500, 3520, 3540, 3560], "format": "d", "labelOverlap": false}},
           "y": {"field": "m", "type": "quantitative", "title": "Intensity (a.u.)", "scale": {"domain": [0, 100], "nice": false, "zero": false}, "axis": {"labels": false, "ticks": false, "titlePadding": 8}}
         }},
        {"data": {"name": "d"}, "mark": {"type": "line", "strokeWidth": 1.1, "color": "#6a88aa"},
         "encoding": {
           "x": {"field": "f", "type": "quantitative", "title": "Magnetic Field (G)", "scale": {"domain": [3460, 3560], "nice": false, "zero": false}, "axis": {"values": [3460, 3480, 3500, 3520, 3540, 3560], "format": "d", "labelOverlap": false}},
           "y": {"field": "q", "type": "quantitative", "title": "Intensity (a.u.)", "scale": {"domain": [0, 100], "nice": false, "zero": false}, "axis": {"labels": false, "ticks": false, "titlePadding": 8}}
         }},
        {"data": {"values": [{"f": 3548, "v": 92.4, "label": "¹O₂", "sz": 11.5}, {"f": 3546, "v": 64, "label": "SO₄˙⁻ / •OH", "sz": 11.5}, {"f": 3552.5, "v": 36.5, "label": "O₂˙⁻", "sz": 11.5}, {"f": 3443.6, "v": 93.1, "label": "(d)", "sz": 15}]},
         "mark": {"type": "text", "color": "#222222", "align": "center", "baseline": "middle"},
         "encoding": {
           "x": {"field": "f", "type": "quantitative", "title": "Magnetic Field (G)", "scale": {"domain": [3460, 3560], "nice": false, "zero": false}, "axis": {"values": [3460, 3480, 3500, 3520, 3540, 3560], "format": "d", "labelOverlap": false}},
           "y": {"field": "v", "type": "quantitative", "title": "Intensity (a.u.)", "scale": {"domain": [0, 100], "nice": false, "zero": false}, "axis": {"labels": false, "ticks": false, "titlePadding": 8}},
           "text": {"field": "label"},
           "size": {"field": "sz", "type": "quantitative", "scale": null}
         }}
      ]
    },
    {
      "width": 227, "height": 179,
      "encoding": {
        "x": {"field": "t", "type": "quantitative", "title": "Time (s)", "scale": {"domain": [0, 491], "nice": false, "zero": false}, "axis": {"values": [0, 60, 120, 180, 240, 300, 360, 420, 480], "labelOverlap": false}},
        "y": {"field": "i", "type": "quantitative", "title": "Current (A)", "scale": {"domain": [-1.1e-5, 9.0e-5], "nice": false, "zero": false}, "axis": {"values": [-1e-5, 0, 1e-5, 2e-5, 3e-5, 4e-5, 5e-5, 6e-5, 7e-5, 8e-5, 9e-5], "labelOverlap": false, "labelExpr": "datum.value == 0 ? '0E+0' : round(datum.value * 100000) + 'E-5'"}}
      },
      "layer": [
        {"data": {"name": "fmain"}, "mark": {"type": "line", "strokeWidth": 1.2, "color": "#b07a50"}},
        {"data": {"name": "fbox"}, "mark": {"type": "rect", "filled": false, "stroke": "#7f8c8c", "strokeWidth": 1.2, "strokeDash": [6, 3, 1.5, 3]},
         "encoding": {"x2": {"field": "t2"}, "y2": {"field": "i2"}}},
        {"data": {"name": "fconn"}, "mark": {"type": "rule", "stroke": "#7f8c8c", "strokeWidth": 1.1, "strokeDash": [6, 3, 1.5, 3]},
         "encoding": {"x2": {"field": "t2"}, "y2": {"field": "i2"}}},
        {"data": {"name": "finset"}, "mark": {"type": "line", "strokeWidth": 1.2},
         "encoding": {"color": {"field": "s", "type": "nominal", "scale": {"domain": ["PDS", "TC"], "range": ["#3cb594", "#e0566a"]}, "legend": null}}},
        {"data": {"name": "farrow"}, "mark": {"type": "rule", "stroke": "#4a98a0", "strokeWidth": 1.5},
         "encoding": {"y2": {"field": "i2"}}},
        {"data": {"name": "farrow"}, "mark": {"type": "point", "shape": "triangle-up", "filled": true, "size": 35, "color": "#4a98a0", "opacity": 1},
         "encoding": {"y": {"field": "tip", "type": "quantitative", "title": "Current (A)", "scale": {"domain": [-1.1e-5, 9.0e-5], "nice": false, "zero": false}, "axis": {"values": [-1e-5, 0, 1e-5, 2e-5, 3e-5, 4e-5, 5e-5, 6e-5, 7e-5, 8e-5, 9e-5], "labelOverlap": false, "labelExpr": "datum.value == 0 ? '0E+0' : round(datum.value * 100000) + 'E-5'"}}}},
        {"data": {"name": "farrow"}, "mark": {"type": "text", "fontSize": 12.5, "color": "#333333", "align": "center", "baseline": "middle"},
         "encoding": {"x": {"field": "lt", "type": "quantitative", "title": "Time (s)", "scale": {"domain": [0, 491], "nice": false, "zero": false}, "axis": {"values": [0, 60, 120, 180, 240, 300, 360, 420, 480], "labelOverlap": false}}, "y": {"datum": 0, "type": "quantitative"}, "text": {"field": "label"}}},
        {"data": {"values": [{"t": -86.5, "i": 8.32e-5, "label": "(f)"}]}, "mark": {"type": "text", "fontSize": 15, "color": "#222222", "align": "center", "baseline": "middle"},
         "encoding": {"text": {"field": "label"}}}
      ]
    }
  ],
  "config": {
    "font": "Liberation Sans",
    "view": {"stroke": "#333333", "strokeWidth": 1},
    "axis": {"domainColor": "#333333", "tickColor": "#333333", "labelColor": "#222222", "titleColor": "#222222", "labelFontSize": 11.5, "titleFontSize": 14.5, "titleFontWeight": "normal", "grid": false, "tickSize": 4, "labelPadding": 2, "titlePadding": 2, "labelFlush": false, "labelOverlap": false, "labelFont": "Liberation Sans", "titleFont": "Liberation Sans"},
    "axisX": {"labelPadding": 0, "titlePadding": 0, "titleFontSize": 14},
    "legend": {"labelFont": "Liberation Sans", "labelColor": "#222222", "labelFontSize": 11.5, "padding": 0},
    "text": {"font": "Liberation Sans"}
  }
}
